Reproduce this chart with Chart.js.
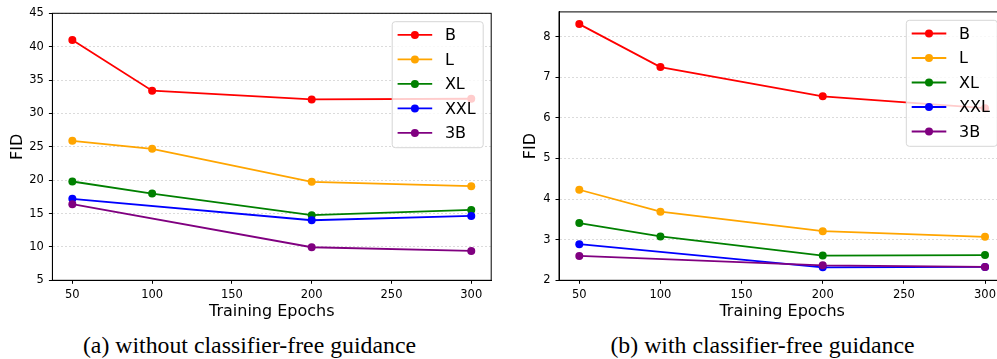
<!DOCTYPE html>
<html>
<head>
<meta charset="utf-8">
<script src="https://cdn.jsdelivr.net/npm/chart.js@4.4.1/dist/chart.umd.min.js"></script>
<style>
  html, body { margin: 0; padding: 0; background: #fff; overflow: hidden; }
  body { width: 997px; height: 359px; position: relative; }
  canvas { position: absolute; top: 0; }
  #fid_plain { left: 0; }
  #fid_cfg { left: 500px; }
  .caption {
    position: absolute; top: 345px;
    font-family: 'Liberation Serif', serif; font-size: 23.8px; color: #000;
    white-space: nowrap; transform: translate(-50%, -50%);
  }
</style>
</head>
<body>
<canvas id="fid_plain" width="500" height="330"></canvas>
<canvas id="fid_cfg" width="520" height="330"></canvas>
<div class="caption" style="left:249.5px">(a) without classifier-free guidance</div>
<div class="caption" style="left:762.5px">(b) with classifier-free guidance</div>
<script>
// model sizes and their line colours
const models = ['B', 'L', 'XL', 'XXL', '3B'];
const colors = ['red', 'orange', 'green', 'blue', 'purple'];

// epochs that were evaluated (XXL and 3B skip 100)
const epochs_all = [50, 100, 200, 300];
const epochs_big = [50, 200, 300];

// FID without classifier-free guidance
const plain_B   = [41.0, 33.4, 32.1, 32.2];
const plain_L   = [25.9, 24.7, 19.75, 19.1];
const plain_XL  = [19.8, 18.0, 14.75, 15.55];
const plain_XXL = [17.2, 14.0, 14.65];
const plain_3B  = [16.4, 9.95, 9.4];

// FID with classifier-free guidance
const cfg_B   = [8.31, 7.25, 6.53, 6.24];
const cfg_L   = [4.23, 3.69, 3.21, 3.07];
const cfg_XL  = [3.41, 3.08, 2.61, 2.62];
const cfg_XXL = [2.89, 2.32, 2.33];
const cfg_3B  = [2.60, 2.37, 2.33];

// tick labels
const x_ticks = [50, 100, 150, 200, 250, 300];
const plain_y_ticks = [5, 10, 15, 20, 25, 30, 35, 40, 45];
const cfg_y_ticks = [2, 3, 4, 5, 6, 7, 8];

const font_family = "'DejaVu Sans', sans-serif";

function to_points(xs, ys) {
    return ys.map((y, i) => ({ x: xs[i], y: y }));
}

// box with all four spines
const frame = {
    id: 'frame',
    afterDatasetsDraw(chart) {
        const a = chart.chartArea;
        const ctx = chart.ctx;
        ctx.save();
        ctx.strokeStyle = '#000';
        ctx.lineWidth = 1;
        ctx.strokeRect(a.left, a.top, a.right - a.left, a.bottom - a.top);
        ctx.restore();
    }
};

// matplotlib-like legend in the upper right corner of the plot
const inside_legend = {
    id: 'inside_legend',
    afterDraw(chart) {
        const ctx = chart.ctx;
        const a = chart.chartArea;
        const w = 91, h = 126;
        const x0 = a.right - 8 - w;
        const y0 = a.top + 8.4;
        ctx.save();
        ctx.beginPath();
        ctx.roundRect(x0, y0, w, h, 3);
        ctx.fillStyle = 'rgba(255,255,255,0.8)';
        ctx.fill();
        ctx.strokeStyle = '#d6d6d6';
        ctx.lineWidth = 1;
        ctx.stroke();
        chart.data.datasets.forEach((ds, i) => {
            const y = y0 + 13.2 + i * 24.5;
            ctx.strokeStyle = ds.borderColor;
            ctx.lineWidth = 1.8;
            ctx.beginPath();
            ctx.moveTo(x0 + 5.4, y);
            ctx.lineTo(x0 + 40, y);
            ctx.stroke();
            ctx.fillStyle = ds.borderColor;
            ctx.beginPath();
            ctx.arc(x0 + 22.7, y, 4, 0, Math.PI * 2);
            ctx.fill();
            ctx.fillStyle = '#000';
            ctx.font = '16px ' + font_family;
            ctx.textBaseline = 'middle';
            ctx.fillText(ds.label, x0 + 52.7, y + 1);
        });
        ctx.restore();
    }
};

function draw_fid(canvas_id, series, y_min, y_max, y_ticks, geo) {
    const xs = [epochs_all, epochs_all, epochs_all, epochs_big, epochs_big];
    const datasets = models.map((name, i) => ({
        label: name,
        data: to_points(xs[i], series[i]),
        borderColor: colors[i],
        backgroundColor: colors[i],
        borderWidth: 1.8,
        pointRadius: 4,
        pointBorderWidth: 0,
        pointBackgroundColor: colors[i],
        tension: 0,
        order: models.length - i,
    }));

    new Chart(document.getElementById(canvas_id), {
        type: 'line',
        data: { datasets: datasets },
        options: {
            responsive: false,
            animation: false,
            layout: { padding: { top: geo.top, right: geo.right, left: 0, bottom: 0 } },
            plugins: {
                legend: { display: false },
                tooltip: { enabled: false },
            },
            scales: {
                x: {
                    type: 'linear',
                    min: 37.5,
                    max: 312.5,
                    afterBuildTicks: s => { s.ticks = x_ticks.map(v => ({ value: v })); },
                    afterFit: s => { s.height = geo.x_height; },
                    grid: { drawOnChartArea: false, drawTicks: true, tickLength: 3.5, tickColor: '#000', tickWidth: 1 },
                    border: { display: true, color: '#000', width: 1 },
                    ticks: { color: '#000', font: { family: font_family, size: 11.5 }, padding: 4, maxRotation: 0, autoSkip: false },
                    title: {
                        display: true, text: 'Training Epochs', color: '#000',
                        font: { family: font_family, size: 16 },
                        padding: { top: 0, bottom: 8.4 },
                    },
                },
                y: {
                    type: 'linear',
                    min: y_min,
                    max: y_max,
                    afterBuildTicks: s => { s.ticks = y_ticks.map(v => ({ value: v })); },
                    afterFit: s => { s.width = geo.y_width; },
                    grid: { color: 'rgba(0,0,0,0.18)', lineWidth: 0.8, drawTicks: true, tickLength: 3.5, tickColor: '#000', tickWidth: 1 },
                    border: { display: true, color: '#000', width: 1, dash: [2, 2] },
                    ticks: { color: '#000', font: { family: font_family, size: 11.5 }, padding: 5 },
                    title: {
                        display: true, text: 'FID', color: '#000',
                        font: { family: font_family, size: 16 },
                        padding: { top: geo.title_pad, bottom: 0 },
                    },
                },
            },
        },
        plugins: [frame, inside_legend],
    });
}

draw_fid('fid_plain', [plain_B, plain_L, plain_XL, plain_XXL, plain_3B], 5, 45, plain_y_ticks,
    { top: 13.3, right: 8.8, x_height: 49.7, y_width: 52.4, title_pad: 8.2 });

draw_fid('fid_cfg', [cfg_B, cfg_L, cfg_XL, cfg_XXL, cfg_3B], 2, 8.61, cfg_y_ticks,
    { top: 8.3, right: 14.7, x_height: 49.7, y_width: 59.0, title_pad: 21.4 });
</script>
</body>
</html>
